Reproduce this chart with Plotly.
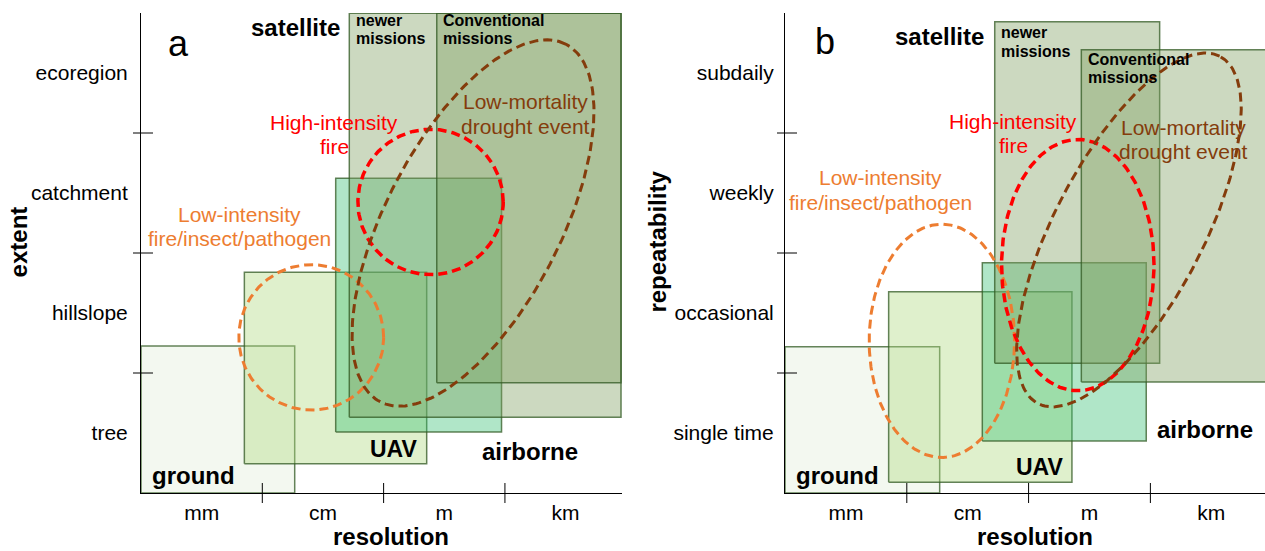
import numpy as np
import plotly.graph_objects as go

# ---------------- data (category units: 0 = start of first category) ----------------
resolution_labels = ["mm", "cm", "m", "km"]
extent_labels = ["tree", "hillslope", "catchment", "ecoregion"]
repeatability_labels = ["single time", "occasional", "weekly", "subdaily"]

platforms = ["ground", "UAV", "airborne",
             "satellite: newer missions", "satellite: conventional missions"]

# panel a: resolution x extent
ext_res_start = [0.0, 0.852, 1.605, 1.717, 2.438]
ext_res_end = [1.267, 2.355, 2.972, 3.957, 3.957]
ext_ext_start = [0.0, 0.244, 0.508, 0.631, 0.919]
ext_ext_end = [1.225, 1.839, 2.623, 3.997, 3.997]

# panel b: resolution x repeatability
rep_res_start = [0.0, 0.851, 1.620, 1.722, 2.433]
rep_res_end = [1.270, 2.356, 2.966, 3.076, 4.2]
rep_rep_start = [0.0, 0.089, 0.433, 1.081, 0.925]
rep_rep_end = [1.219, 1.678, 1.919, 3.928, 3.694]

disturbances = ["Low-intensity fire/insect/pathogen", "High-intensity fire",
                "Low-mortality drought event"]
# ellipses: centre, semi-axes, tilt (deg)
ext_cx = [1.403, 2.387, 2.737]
ext_cy = [1.297, 2.425, 2.250]
ext_ra = [0.597, 0.599, 1.675]
ext_rb = [0.606, 0.606, 0.721]
ext_tilt = [0.0, 0.0, 62.9]

rep_cx = [1.288, 2.404, 2.824]
rep_cy = [1.268, 1.899, 2.192]
rep_ra = [0.597, 0.626, 1.628]
rep_rb = [0.972, 1.047, 0.612]
rep_tilt = [0.0, 0.0, 62.8]

category_bounds = [1, 2, 3]
category_centres = [0.5, 1.5, 2.5, 3.5]

# ---------------- styles ----------------
W, H = 1265, 551
FONT = "Liberation Sans, Arial, sans-serif"
fills = ["rgba(225,238,218,0.4)", "rgba(175,218,128,0.4)", "rgba(58,193,118,0.4)",
         "rgba(128,160,98,0.4)", "rgba(128,160,98,0.4)"]
border = "rgba(50,90,35,0.75)"
dist_colors = ["#ED7D31", "#FF0000", "#843C0C"]
dist_widths = [3, 3.5, 3]

fig = go.Figure()

panels = [
    ("x", "y", ext_res_start, ext_res_end, ext_ext_start, ext_ext_end,
     ext_cx, ext_cy, ext_ra, ext_rb, ext_tilt),
    ("x2", "y2", rep_res_start, rep_res_end, rep_rep_start, rep_rep_end,
     rep_cx, rep_cy, rep_ra, rep_rb, rep_tilt),
]

t = np.linspace(0, 2 * np.pi, 240)
for xa, ya, xs, xe, ys, ye, cxs, cys, ras, rbs, tilts in panels:
    for i, name in enumerate(platforms):
        fig.add_trace(go.Scatter(
            x=[xs[i], xe[i], xe[i], xs[i], xs[i]],
            y=[ys[i], ys[i], ye[i], ye[i], ys[i]],
            mode="lines", fill="toself", fillcolor=fills[i],
            line=dict(color=border, width=1.5), name=name,
            xaxis=xa, yaxis=ya, hoverinfo="skip", showlegend=False))
    for j, name in enumerate(disturbances):
        th = np.deg2rad(tilts[j])
        ex = cxs[j] + ras[j] * np.cos(th) * np.cos(t) - rbs[j] * np.sin(th) * np.sin(t)
        ey = cys[j] + ras[j] * np.sin(th) * np.cos(t) + rbs[j] * np.cos(th) * np.sin(t)
        fig.add_trace(go.Scatter(
            x=ex, y=ey, mode="lines", name=name,
            line=dict(color=dist_colors[j], width=dist_widths[j], dash="9px,5px"),
            xaxis=xa, yaxis=ya, hoverinfo="skip", showlegend=False))

# crossing tick marks at category boundaries
shapes = []
for xa, ya in [("x", "y"), ("x2", "y2")]:
    for b in category_bounds:
        shapes.append(dict(type="line", xref=xa, yref=ya + " domain", x0=b, x1=b,
                           ysizemode="pixel", yanchor=0, y0=-10, y1=10,
                           line=dict(color="black", width=1)))
        shapes.append(dict(type="line", yref=ya, xref=xa + " domain", y0=b, y1=b,
                           xsizemode="pixel", xanchor=0, x0=-8, x1=12,
                           line=dict(color="black", width=1)))

ann = []


def label(text, x, y, xa, ya, size, color="black", bold=False, xanchor="center", angle=0):
    ann.append(dict(text=("<b>%s</b>" % text) if bold else text, x=x, y=y,
                    xref=xa, yref=ya, showarrow=False, xanchor=xanchor, yanchor="middle",
                    textangle=angle, borderpad=0,
                    font=dict(family=FONT, size=size, color=color)))


# panel a labels
label("a", 0.309, 3.747, "x", "y", 36)
label("satellite", 1.274, 3.883, "x", "y", 24, bold=True)
label("newer", 1.764, 3.939, "x", "y", 16, bold=True, xanchor="left")
label("missions", 1.764, 3.784, "x", "y", 16, bold=True, xanchor="left")
label("Conventional", 2.484, 3.939, "x", "y", 16, bold=True, xanchor="left")
label("missions", 2.484, 3.784, "x", "y", 16, bold=True, xanchor="left")
label("High-intensity", 1.595, 3.087, "x", "y", 21, dist_colors[1])
label("fire", 1.595, 2.887, "x", "y", 21, dist_colors[1])
label("Low-mortality", 3.166, 3.262, "x", "y", 21, dist_colors[2])
label("drought event", 3.166, 3.058, "x", "y", 21, dist_colors[2])
label("Low-intensity", 0.816, 2.32, "x", "y", 21, dist_colors[0])
label("fire/insect/pathogen", 0.816, 2.12, "x", "y", 21, dist_colors[0])
label("UAV", 2.083, 0.3675, "x", "y", 23, bold=True)
label("airborne", 3.207, 0.342, "x", "y", 24, bold=True)
label("ground", 0.433, 0.1475, "x", "y", 24, bold=True)

# panel b labels
label("b", 0.328, 3.759, "x2", "y2", 36)
label("satellite", 1.267, 3.803, "x2", "y2", 24, bold=True)
label("newer", 1.765, 3.834, "x2", "y2", 16, bold=True, xanchor="left")
label("missions", 1.765, 3.676, "x2", "y2", 16, bold=True, xanchor="left")
label("Conventional", 2.477, 3.612, "x2", "y2", 16, bold=True, xanchor="left")
label("missions", 2.477, 3.459, "x2", "y2", 16, bold=True, xanchor="left")
label("High-intensity", 1.872, 3.099, "x2", "y2", 21, dist_colors[1])
label("fire", 1.872, 2.895, "x2", "y2", 21, dist_colors[1])
label("Low-mortality", 3.268, 3.045, "x2", "y2", 21, dist_colors[2])
label("drought event", 3.268, 2.845, "x2", "y2", 21, dist_colors[2])
label("Low-intensity", 0.788, 2.6325, "x2", "y2", 21, dist_colors[0])
label("fire/insect/pathogen", 0.788, 2.42, "x2", "y2", 21, dist_colors[0])
label("UAV", 2.094, 0.22, "x2", "y2", 23, bold=True)
label("airborne", 3.447, 0.5275, "x2", "y2", 24, bold=True)
label("ground", 0.435, 0.15, "x2", "y2", 24, bold=True)

# axis titles (paper coordinates)
label("resolution", 390.5 / W, 1 - 536.5 / H, "paper", "paper", 24, bold=True)
label("resolution", 1035.2 / W, 1 - 536.5 / H, "paper", "paper", 24, bold=True)
label("extent", 18.7 / W, 1 - 241.7 / H, "paper", "paper", 24, bold=True, angle=-90)
label("repeatability", 658 / W, 1 - 241.6 / H, "paper", "paper", 24, bold=True, angle=-90)

axis_common = dict(showgrid=False, zeroline=False, showline=True, linecolor="black",
                   linewidth=1, ticks="", fixedrange=True, automargin=False,
                   tickfont=dict(family=FONT, size=21, color="black"))
ydom = [58 / H, 538 / H]

fig.update_layout(
    width=W, height=H, autosize=False,
    margin=dict(l=0, r=0, t=0, b=0),
    paper_bgcolor="white", plot_bgcolor="rgba(0,0,0,0)",
    font=dict(family=FONT, color="black"),
    showlegend=False,
    xaxis=dict(axis_common, domain=[141 / W, 622 / W], range=[0, 3.965], anchor="y",
               tickvals=category_centres, ticktext=resolution_labels, ticklabelstandoff=1),
    yaxis=dict(axis_common, domain=ydom, range=[0, 4], anchor="x",
               tickvals=category_centres, ticktext=extent_labels, ticklabelstandoff=8),
    xaxis2=dict(axis_common, domain=[785 / W, 1.0], range=[0, 3.941], anchor="y2",
                tickvals=category_centres, ticktext=resolution_labels, ticklabelstandoff=1),
    yaxis2=dict(axis_common, domain=ydom, range=[0, 4], anchor="x2",
                tickvals=category_centres, ticktext=repeatability_labels, ticklabelstandoff=6),
    shapes=shapes,
    annotations=ann,
)

fig.write_html("out.html", config={"displayModeBar": False})
